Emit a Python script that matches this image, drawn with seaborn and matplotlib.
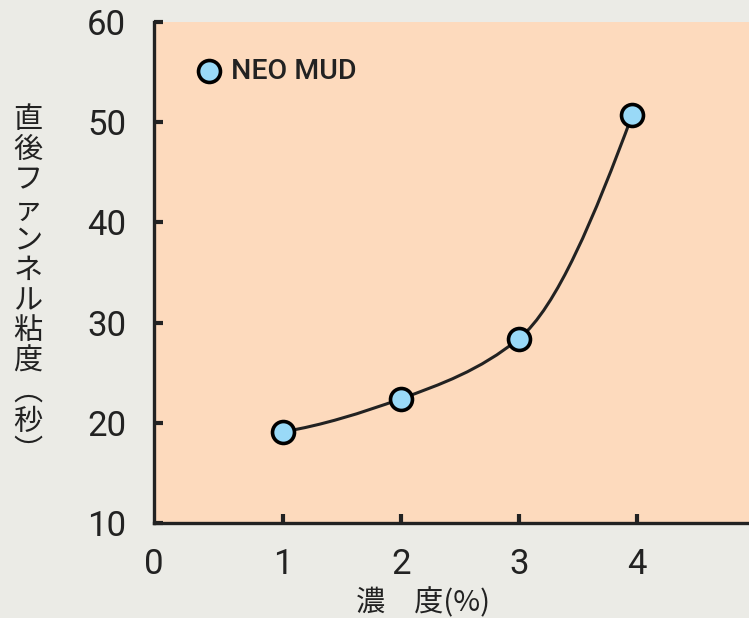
import numpy as np
import pandas as pd
import seaborn as sns
import matplotlib.pyplot as plt
from matplotlib.path import Path
from matplotlib.patches import PathPatch

# data
concentration = [1.0, 2.0, 3.0, 3.96]
viscosity = [19.1, 22.4, 28.4, 50.7]
series_name = "NEO MUD"
x_ticks = [1, 2, 3, 4]
y_ticks = [10, 20, 30, 40, 50, 60]

df = pd.DataFrame({"conc": concentration, "visc": viscosity})

sns.set_theme(style="ticks")
plt.rcParams['font.family'] = ['Roboto', 'Noto Sans CJK JP', 'DejaVu Sans']

fig = plt.figure(figsize=(7.49, 6.18), dpi=100, facecolor="#EBEBE6")
ax = fig.add_axes([154 / 749, 95 / 618, 595 / 749, 501 / 618])
ax.set_facecolor("#FDDABD")

# smooth curve through the points: shape-preserving (pchip-style) tangents,
# drawn as cubic Bezier segments
x = np.array(concentration)
y = np.array(viscosity)
h = np.diff(x)
d = np.diff(y) / h
m = np.zeros_like(y)
for i in range(1, len(x) - 1):
    w1 = 2 * h[i] + h[i - 1]
    w2 = h[i] + 2 * h[i - 1]
    m[i] = (w1 + w2) / (w1 / d[i - 1] + w2 / d[i])
m[0] = ((2 * h[0] + h[1]) * d[0] - h[0] * d[1]) / (h[0] + h[1])
m[-1] = ((2 * h[-1] + h[-2]) * d[-1] - h[-1] * d[-2]) / (h[-1] + h[-2])

verts = [(x[0], y[0])]
codes = [Path.MOVETO]
for i in range(len(x) - 1):
    verts += [(x[i] + h[i] / 3, y[i] + m[i] * h[i] / 3),
              (x[i + 1] - h[i] / 3, y[i + 1] - m[i + 1] * h[i] / 3),
              (x[i + 1], y[i + 1])]
    codes += [Path.CURVE4] * 3
ax.add_patch(PathPatch(Path(verts, codes), facecolor="none",
                       edgecolor="#222222", lw=2.2, zorder=2))

sns.scatterplot(data=df, x="conc", y="visc", ax=ax, s=250,
                color="#99D9F7", edgecolor="black", linewidth=2.6,
                label=series_name, zorder=3)

xmin, xmax = -0.093, 4.95
ax.set_xlim(xmin, xmax)
ax.set_ylim(10, 60)
ax.set_xticks([xmin] + x_ticks)
ax.set_xticklabels(["0"] + [str(t) for t in x_ticks])
ax.set_yticks(y_ticks)
ax.set_yticklabels([str(t) for t in y_ticks])
ax.tick_params(axis="both", direction="in", length=6.5, width=3,
               colors="#222222", labelsize=25)
ax.tick_params(axis="x", pad=18)
ax.tick_params(axis="y", pad=20)
ax.xaxis.get_major_ticks()[0].tick1line.set_visible(False)
ax.set_xlabel("")
ax.set_ylabel("")

for s in ["top", "right"]:
    ax.spines[s].set_visible(False)
for s in ["left", "bottom"]:
    ax.spines[s].set_linewidth(2.4)
    ax.spines[s].set_color("#222222")

leg = ax.legend(loc="center left", bbox_to_anchor=(0.05, 0.902), frameon=False,
                handlelength=1.0, handletextpad=0.25, borderaxespad=0,
                prop={"size": 20.5, "weight": "medium"})
for t in leg.get_texts():
    t.set_color("#222222")

# x label
fig.text(423 / 749, 1 - 588 / 618, "濃　度(%)", ha="center", va="top",
         fontsize=21, color="#222222", family=['Noto Sans CJK JP', 'DejaVu Sans'])

# vertical y label
ylab = "直後ファンネル粘度︵秒︶"
fig.text(28 / 749, 1 - 286 / 618, "\n".join(ylab), ha="center", va="center",
         fontsize=21, linespacing=1.01, color="#222222",
         family=['Noto Sans CJK JP', 'DejaVu Sans'])

fig.savefig("out.png", dpi=100, facecolor=fig.get_facecolor())
